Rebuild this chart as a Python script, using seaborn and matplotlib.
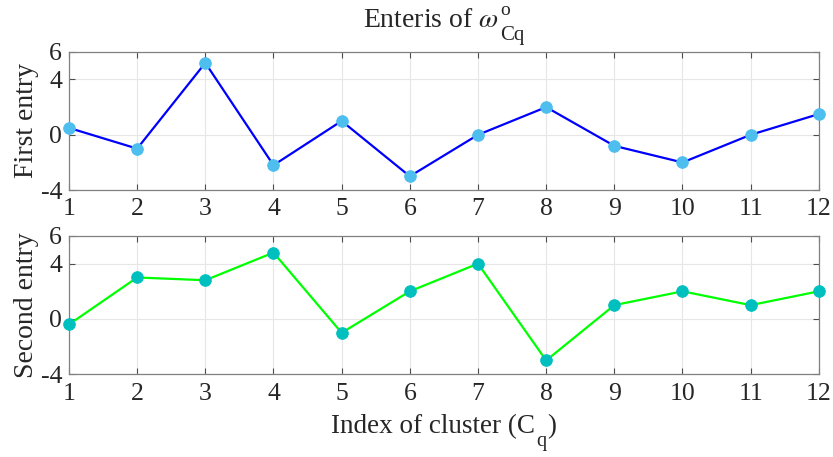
import matplotlib
matplotlib.use("Agg")
import matplotlib.pyplot as plt
import seaborn as sns
import pandas as pd
from matplotlib.transforms import IdentityTransform

cluster_index = list(range(1, 13))
first_entry = [0.5, -1.0, 5.2, -2.2, 1.0, -3.0, 0.0, 2.0, -0.8, -2.0, 0.0, 1.5]
second_entry = [-0.4, 3.0, 2.8, 4.8, -1.0, 2.0, 4.0, -3.0, 1.0, 2.0, 1.0, 2.0]
y_ticks = [-4, 0, 4, 6]

sns.set_theme(style="white")
plt.rcParams["font.family"] = ["Liberation Serif", "DejaVu Serif"]
plt.rcParams["mathtext.fontset"] = "stix"
plt.rcParams["axes.unicode_minus"] = False

TXT = "#262626"
df = pd.DataFrame({"idx": cluster_index, "first": first_entry, "second": second_entry})

fig = plt.figure(figsize=(8.33, 4.57), dpi=100)
ax1 = fig.add_axes([0.0828, 0.584, 0.9002, 0.3026])
ax2 = fig.add_axes([0.0828, 0.181, 0.9002, 0.3026])

specs = [
    (ax1, "first", "#0000FF", "#4DBEEE", "First entry"),
    (ax2, "second", "#00FF00", "#00BFBF", "Second entry"),
]
for ax, col, lc, mc, lab in specs:
    sns.lineplot(data=df, x="idx", y=col, ax=ax, color=lc, linewidth=1.6,
                 marker="o", markersize=8.3, markerfacecolor=mc,
                 markeredgecolor=mc, zorder=3, clip_on=False)
    ax.set_xlim(1, 12)
    ax.set_ylim(-4, 6)
    ax.set_xticks(cluster_index)
    ax.set_yticks(y_ticks)
    ax.set_ylabel(lab, fontsize=20, color=TXT)
    ax.yaxis.set_label_coords(-0.040, 0.5)
    ax.set_xlabel("")
    ax.grid(True, color="#e6e6e6", linewidth=0.8)
    ax.tick_params(axis="both", direction="in", length=4, width=0.8,
                   colors="#4d4d4d", labelcolor=TXT, labelsize=18.5,
                   top=True, right=True, bottom=True, left=True)
    ax.tick_params(axis="x", pad=6)
    ax.tick_params(axis="y", pad=5)
    for s in ax.spines.values():
        s.set_color("#808080")
        s.set_linewidth(0.9)
        s.set_visible(True)

renderer = fig.canvas.get_renderer()
H = 457.0
cx = 444.0  # horizontal centre of axes in pixels


def width(t):
    return t.get_window_extent(renderer).width


# Title: "Enteris of ω" with superscript o and subscript Cq
tr = IdentityTransform()
t_main = fig.text(0, H - 27, r"Enteris of $\omega$", fontsize=20, color=TXT,
                  ha="left", va="baseline", transform=tr)
t_sup = fig.text(0, H - 15, "o", fontsize=14, color=TXT,
                 ha="left", va="baseline", transform=tr)
t_sub = fig.text(0, H - 40, "Cq", fontsize=15, color=TXT,
                 ha="left", va="baseline", transform=tr)
wm, wsub = width(t_main), width(t_sub)
x0 = cx - (wm + 2 + wsub) / 2
t_main.set_x(x0)
t_sup.set_x(x0 + wm + 2)
t_sub.set_x(x0 + wm + 1)

# X label: "Index of cluster (C_q)"
xl1 = fig.text(0, H - 433, "Index of cluster (C", fontsize=19.5, color=TXT,
               ha="left", va="baseline", transform=tr)
xl2 = fig.text(0, H - 446, "q", fontsize=14.5, color=TXT,
               ha="left", va="baseline", transform=tr)
xl3 = fig.text(0, H - 433, ")", fontsize=19.5, color=TXT,
               ha="left", va="baseline", transform=tr)
w1, w2, w3 = width(xl1), width(xl2), width(xl3)
x0 = cx - (w1 + w2 + w3 + 2) / 2
xl1.set_x(x0)
xl2.set_x(x0 + w1 + 1)
xl3.set_x(x0 + w1 + w2 + 2)

fig.savefig("out.png", dpi=100)
